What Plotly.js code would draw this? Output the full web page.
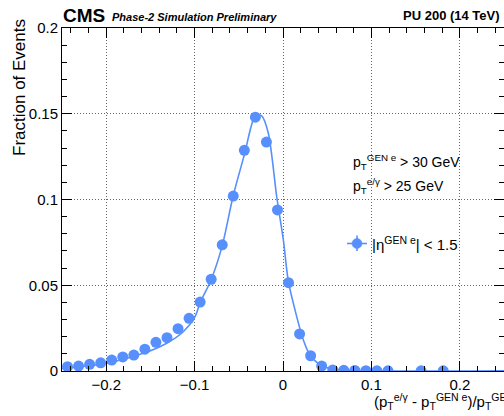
<!DOCTYPE html>
<html>
<head>
<meta charset="utf-8">
<script src="https://cdn.plot.ly/plotly-3.0.1.min.js"></script>
<style>html,body{margin:0;padding:0;background:#fff;}#plot{width:504px;height:416px;}</style>
</head>
<body>
<div id="plot"></div>
<script>
// Histogram bin centres (x) and fraction of events (y)
var binCenters = [-0.24375, -0.23125, -0.21875, -0.20625, -0.19375, -0.18125, -0.16875, -0.15625,
  -0.14375, -0.13125, -0.11875, -0.10625, -0.09375, -0.08125, -0.06875, -0.05625, -0.04375,
  -0.03125, -0.01875, -0.00625, 0.00625, 0.01875, 0.03125, 0.04375, 0.05625, 0.06875,
  0.08125, 0.09375, 0.10625, 0.11875, 0.15625, 0.18125];
var fractions = [0.0025, 0.0029, 0.0039, 0.0048, 0.0064, 0.0082, 0.0093, 0.0127,
  0.0167, 0.0194, 0.0247, 0.0307, 0.0402, 0.0535, 0.0736, 0.1020, 0.1287,
  0.1480, 0.1335, 0.0939, 0.0515, 0.0216, 0.0089, 0.0029, 0.0006, 0.0004,
  0.0003, 0.0002, 0.0001, 0.0001, 0.0001, 0.0001];

// Fit curve, points
var fitX = [-0.25, -0.1994, -0.158, -0.1316, -0.1128, -0.0995, -0.0939, -0.0814, -0.069,
  -0.0566, -0.0438, -0.0309, -0.0241, -0.0166, -0.0071, 0.0004, 0.006, 0.0155, 0.023,
  0.0305, 0.0438, 0.0569, 0.0871, 0.25];
var fitY = [0.0015, 0.0045, 0.0103, 0.0162, 0.0229, 0.0317, 0.0396, 0.0531, 0.0725,
  0.1016, 0.1259, 0.1493, 0.1487, 0.1386, 0.1016, 0.0764, 0.0525, 0.0317, 0.0181,
  0.0093, 0.0031, 0.0012, 0.0002, 0.0001];

var xTickVals = [-0.2, -0.1, 0, 0.1, 0.2];
var yTickVals = [0, 0.05, 0.1, 0.15, 0.2];

var legendLabel = '|η<sup>GEN e</sup>| < 1.5';

var blue = '#5790fc';
var font = 'Liberation Sans, Arial, Helvetica, sans-serif';

var traces = [
  {x: fitX, y: fitY, mode: 'lines', line: {color: blue, width: 1.6, shape: 'spline', smoothing: 0.8},
   showlegend: false, hoverinfo: 'skip'},
  {x: binCenters, y: fractions, mode: 'markers', marker: {color: blue, size: 11, symbol: 'circle'},
   showlegend: false}
];

function px2x(px) { return (px - 62) / 442; }
function px2y(py) { return (371 - py) / 343; }

// legend key (marker with error-bar cross), placed in paper coordinates
var lx = 357, ly = 243.5, lr = 5;
var shapes = [
  {type: 'line', xref: 'paper', yref: 'paper', x0: px2x(347), x1: px2x(367), y0: px2y(ly), y1: px2y(ly),
   line: {color: blue, width: 1.6}},
  {type: 'line', xref: 'paper', yref: 'paper', x0: px2x(lx), x1: px2x(lx), y0: px2y(235.5), y1: px2y(251),
   line: {color: blue, width: 1.6}},
  {type: 'circle', xref: 'paper', yref: 'paper', x0: px2x(lx - lr), x1: px2x(lx + lr),
   y0: px2y(ly - lr), y1: px2y(ly + lr), fillcolor: blue, line: {color: blue, width: 0.5}}
];

var layout = {
  width: 504, height: 416,
  margin: {l: 62, r: 0, t: 28, b: 45, pad: 0},
  paper_bgcolor: '#fff', plot_bgcolor: '#fff',
  font: {family: font, size: 15, color: '#000'},
  showlegend: false,
  xaxis: {
    range: [-0.25, 0.25], tickmode: 'array', tickvals: xTickVals,
    ticks: 'inside', ticklen: 10, tickcolor: '#000', tickwidth: 1,
    showline: true, linecolor: '#000', linewidth: 1, mirror: 'allticks',
    showgrid: true, gridcolor: '#666', griddash: '1px,2px', gridwidth: 1,
    zeroline: false, tickfont: {size: 15},
    minor: {dtick: 0.02, tick0: 0, ticks: 'inside', ticklen: 5, tickcolor: '#000', showgrid: false}
  },
  yaxis: {
    range: [0, 0.2], tickmode: 'array', tickvals: yTickVals,
    ticks: 'inside', ticklen: 10, tickcolor: '#000', tickwidth: 1,
    showline: true, linecolor: '#000', linewidth: 1, mirror: 'allticks',
    showgrid: true, gridcolor: '#666', griddash: '1px,2px', gridwidth: 1,
    zeroline: false, tickfont: {size: 15},
    minor: {dtick: 0.01, tick0: 0, ticks: 'inside', ticklen: 5, tickcolor: '#000', showgrid: false}
  },
  shapes: shapes,
  annotations: [
    {xref: 'paper', yref: 'paper', x: px2x(61), y: px2y(15), xanchor: 'left', yanchor: 'middle',
     text: '<b>CMS</b>', showarrow: false, font: {size: 19}},
    {xref: 'paper', yref: 'paper', x: px2x(110), y: px2y(17), xanchor: 'left', yanchor: 'middle',
     text: '<b><i>Phase-2 Simulation Preliminary</i></b>', showarrow: false, font: {size: 11}},
    {xref: 'paper', yref: 'paper', x: px2x(502), y: px2y(16), xanchor: 'right', yanchor: 'middle',
     text: '<b>PU 200 (14 TeV)</b>', showarrow: false, font: {size: 13}},
    {xref: 'paper', yref: 'paper', x: px2x(19), y: px2y(88), xanchor: 'center', yanchor: 'middle',
     textangle: -90, text: 'Fraction of Events', showarrow: false, font: {size: 17}},
    {xref: 'paper', yref: 'paper', x: px2x(372), y: px2y(401), xanchor: 'left', yanchor: 'middle',
     text: '(p<sub>T</sub><sup>e/γ</sup> - p<sub>T</sub><sup>GEN e</sup>)/p<sub>T</sub><sup>GEN e</sup>',
     showarrow: false, font: {size: 15}},
    {xref: 'paper', yref: 'paper', x: px2x(351), y: px2y(162), xanchor: 'left', yanchor: 'middle',
     text: 'p<sub>T</sub><sup>GEN e</sup> > 30 GeV', showarrow: false, font: {size: 14}},
    {xref: 'paper', yref: 'paper', x: px2x(351), y: px2y(186), xanchor: 'left', yanchor: 'middle',
     text: 'p<sub>T</sub><sup>e/γ</sup> > 25 GeV', showarrow: false, font: {size: 14}},
    {xref: 'paper', yref: 'paper', x: px2x(370), y: px2y(243), xanchor: 'left', yanchor: 'middle',
     text: legendLabel, showarrow: false, font: {size: 15}}
  ]
};

Plotly.newPlot('plot', traces, layout, {displayModeBar: false, staticPlot: true});
</script>
</body>
</html>
